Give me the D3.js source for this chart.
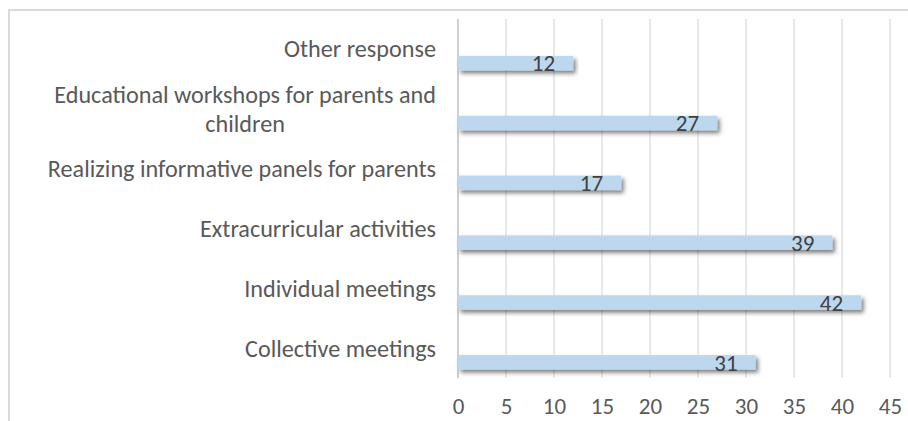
<!DOCTYPE html>
<html>
<head>
<meta charset="utf-8">
<script src="https://cdn.jsdelivr.net/npm/d3@7"></script>
<style>
  body { margin: 0; background: #fff; }
  text { font-family: Carlito, Calibri, "Open Sans", sans-serif; }
</style>
</head>
<body>
<div id="chart"></div>
<script>
// categories, top to bottom as in the picture
var categories = [
  "Other response",
  "Educational workshops for parents and children",
  "Realizing informative panels for parents",
  "Extracurricular activities",
  "Individual meetings",
  "Collective meetings"
];
var values = [12, 27, 17, 39, 42, 31];
var ticks = [0, 5, 10, 15, 20, 25, 30, 35, 40, 45];

var W = 908, H = 421;
var margin = {top: 19, left: 458, right: 18, bottom: 43};
var width = W - margin.left - margin.right;
var height = H - margin.top - margin.bottom;
var fs = 23;

var svg = d3.select("#chart").append("svg")
    .attr("width", W)
    .attr("height", H);

// drop shadow like the office chart
var defs = svg.append("defs");
var f = defs.append("filter").attr("id", "shadow")
    .attr("x", "-5%").attr("y", "-50%").attr("width", "110%").attr("height", "220%");
f.append("feDropShadow")
    .attr("dx", 2.5).attr("dy", 3).attr("stdDeviation", 2)
    .attr("flood-color", "#000").attr("flood-opacity", 0.5);

// outer frame (only top and left visible)
svg.append("path")
    .attr("d", "M9," + (H + 2) + "V10H" + (W + 2))
    .attr("fill", "none")
    .attr("stroke", "#d9d9d9")
    .attr("stroke-width", 2);

var g = svg.append("g")
    .attr("transform", "translate(" + margin.left + "," + margin.top + ")");

var x = d3.scaleLinear().domain([0, 45]).range([0, 432]);
var y = d3.scaleBand().domain(categories).range([0, height]);

// gridlines
g.selectAll("line.grid")
    .data(ticks.slice(1))
    .enter().append("line")
    .attr("class", "grid")
    .attr("x1", function(d) { return x(d); })
    .attr("x2", function(d) { return x(d); })
    .attr("y1", 0)
    .attr("y2", height)
    .attr("stroke", "#d9d9d9")
    .attr("stroke-width", 1.2);

g.append("line")
    .attr("x1", 0).attr("x2", 0)
    .attr("y1", 0).attr("y2", height)
    .attr("stroke", "#d0d0d0")
    .attr("stroke-width", 2);

// bars sit in the lower part of each band
var barOff = 7, barH = 14.5;
g.selectAll("rect.bar")
    .data(values)
    .enter().append("rect")
    .attr("class", "bar")
    .attr("x", 0)
    .attr("y", function(d, i) { return y(categories[i]) + y.bandwidth() / 2 + barOff; })
    .attr("width", function(d) { return x(d); })
    .attr("height", barH)
    .attr("fill", "#bdd7ee")
    .attr("filter", "url(#shadow)");

g.selectAll("text.val")
    .data(values)
    .enter().append("text")
    .attr("class", "val")
    .attr("x", function(d) { return x(d) - 18; })
    .attr("y", function(d, i) { return y(categories[i]) + y.bandwidth() / 2 + barOff + barH / 2; })
    .attr("dy", "0.36em")
    .attr("text-anchor", "end")
    .attr("font-size", fs)
    .attr("fill", "#404040")
    .text(function(d) { return d; });

// x axis labels
var xAxis = d3.axisBottom(x).tickValues(ticks).tickSize(0).tickPadding(20);
var ax = g.append("g")
    .attr("transform", "translate(0," + height + ")")
    .call(xAxis);
ax.select(".domain").remove();
ax.selectAll("text")
    .attr("font-size", fs)
    .attr("fill", "#595959")
    .style("font-family", "Carlito, Calibri, 'Open Sans', sans-serif");

// category labels, wrapped where the original wraps
var wrapped = {
  "Educational workshops for parents and children": ["Educational workshops for parents and", "children"]
};
var lab = g.selectAll("text.cat")
    .data(categories)
    .enter().append("text")
    .attr("class", "cat")
    .attr("font-size", 24.2)
    .attr("fill", "#595959");

lab.each(function(d) {
  var lines = wrapped[d] || [d];
  var t = d3.select(this);
  var cy = y(d) + y.bandwidth() / 2;
  var lh = 29;
  lines.forEach(function(s, k) {
    t.append("tspan")
      .attr("x", -22)
      .attr("text-anchor", lines.length > 1 ? "middle" : "end")
      .attr("y", cy + (k - (lines.length - 1) / 2) * lh)
      .attr("dy", "0.35em")
      .text(s);
  });
});
// multi-line label: first line right-aligned at -22, centre the block on it
lab.filter(function(d) { return wrapped[d]; }).each(function() {
  var t = d3.select(this);
  var w = t.select("tspan").node().getComputedTextLength();
  t.selectAll("tspan").attr("x", -22 - w / 2);
});
</script>
</body>
</html>
